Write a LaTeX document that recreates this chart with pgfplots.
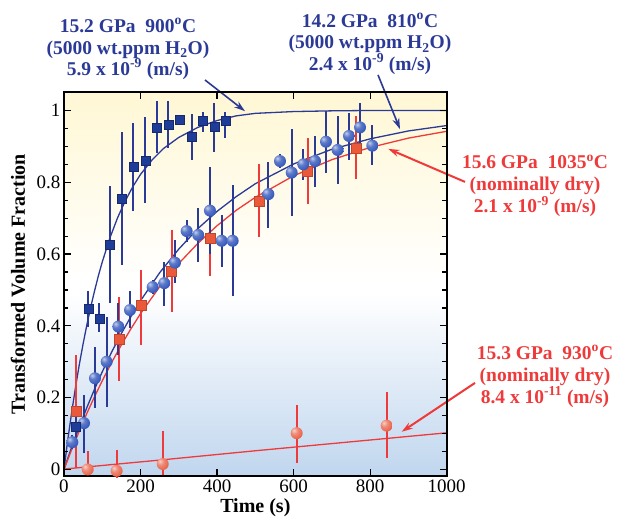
\documentclass[border=0pt]{standalone}
\usepackage{fontspec}
\setmainfont{Liberation Serif}
\usepackage{pgfplots}
\usepackage{pgfplotstable}
\pgfplotsset{compat=1.18}
\usetikzlibrary{arrows.meta}

\definecolor{dblue}{HTML}{2B3A96}
\definecolor{sqblue}{HTML}{1F3C98}
\definecolor{ballblue}{HTML}{3559BC}
\definecolor{dred}{HTML}{EE3A3A}
\definecolor{sqred}{HTML}{EA5A3A}
\definecolor{ballred}{HTML}{E8644A}
\definecolor{ytop}{HTML}{FFF7D4}
\definecolor{bbot}{HTML}{C0D6EE}

% sphere-like marks, lighter than the built-in ball
\pgfdeclareradialshading{bsph}{\pgfpoint{-12bp}{12bp}}{color(0bp)=(ballblue!30!white); color(14bp)=(ballblue!80!white); color(32bp)=(ballblue); color(55bp)=(ballblue!75!black); color(100bp)=(ballblue!75!black)}
\pgfdeclareradialshading{rsph}{\pgfpoint{-12bp}{12bp}}{color(0bp)=(ballred!30!white); color(14bp)=(ballred!75!white); color(32bp)=(ballred); color(55bp)=(ballred!85!black); color(100bp)=(ballred!85!black)}
\pgfdeclareplotmark{bsphere}{\pgfpathcircle{\pgfpointorigin}{\pgfplotmarksize}\pgfshadepath{bsph}{0}\pgfusepath{}}
\pgfdeclareplotmark{rsphere}{\pgfpathcircle{\pgfpointorigin}{\pgfplotmarksize}\pgfshadepath{rsph}{0}\pgfusepath{}}

% t, y, error plus, error minus
\pgfplotstableread{
t y ep em
30.5 0.119 0.040 0.040
63.6 0.449 0.049 0.051
92.3 0.421 0.042 0.037
120.2 0.625 0.165 0.162
151.5 0.753 0.188 0.183
181.0 0.842 0.122 0.122
212.5 0.861 0.120 0.118
242.0 0.953 0.074 0.071
272.7 0.960 0.067 0.065
301.5 0.974 0.011 0.014
333.6 0.927 0.063 0.065
362.4 0.971 0.026 0.030
392.8 0.954 0.068 0.069
421.6 0.971 0.026 0.049
}\bluesq

\pgfplotstableread{
t y ep em
21.8 0.076 0.020 0.020
52.3 0.129 0.079 0.082
81.0 0.254 0.086 0.084
111.5 0.300 0.126 0.125
142.0 0.398 0.065 0.079
172.5 0.444 0.054 0.051
231.7 0.508 0.020 0.020
262.0 0.519 0.060 0.064
290.0 0.576 0.063 0.056
320.5 0.664 0.030 0.030
350.8 0.653 0.075 0.074
381.4 0.721 0.122 0.120
412.0 0.637 0.072 0.072
440.7 0.637 0.155 0.154
534.0 0.767 0.090 0.095
564.4 0.859 0.020 0.020
595.0 0.827 0.121 0.121
625.4 0.850 0.042 0.044
656.0 0.859 0.070 0.073
684.6 0.913 0.086 0.086
715.0 0.890 0.095 0.095
744.7 0.929 0.065 0.067
773.5 0.953 0.069 0.063
805.6 0.902 0.058 0.054
}\bluecirc

\pgfplotstableread{
t y ep em
31.4 0.161 0.158 0.158
144.5 0.363 0.118 0.118
201.0 0.456 0.100 0.109
281.4 0.551 0.116 0.113
381.5 0.644 0.107 0.104
510.0 0.748 0.102 0.101
636.7 0.831 0.091 0.091
763.0 0.896 0.089 0.088
}\redsq

\pgfplotstableread{
t y ep em
62.0 0.000 0.052 0.020
137.6 -0.004 0.058 0.020
258.0 0.015 0.092 0.030
608.0 0.101 0.079 0.082
843.0 0.122 0.093 0.091
}\redcirc

\begin{document}
\begin{tikzpicture}
\begin{axis}[
  scale only axis, width=382.7pt, height=383.7pt,
  xmin=0, xmax=1000, ymin=-0.018, ymax=1.051,
  xtick={0,200,...,1000}, xticklabels={0,200,400,600,800,1000},
  ytick={0,0.2,0.4,0.6,0.8,1}, yticklabels={0,0.2,0.4,0.6,0.8,1},
  minor y tick num=3,
  tick align=inside, major tick length=7pt, minor tick length=4.5pt,
  every tick/.style={black, line width=1.2pt},
  axis line style={line width=2pt},
  axis on top, clip=false,
  ticklabel style={font=\fontsize{19}{19}\selectfont},
  /pgf/number format/assume math mode=true,
  xlabel={Time (s)}, ylabel={Transformed Volume Fraction},
  label style={font=\bfseries\fontsize{20}{20}\selectfont},
  xlabel style={at={(axis description cs:0.5,-0.083)}, anchor=center},
  ylabel style={at={(axis description cs:-0.12,0.5)}, anchor=center},
  error bars/y dir=both, error bars/y explicit,
  error bars/error mark=none,
]
% background
\fill[top color=ytop, bottom color=white, draw=none] (axis cs:0,1.051) rectangle (axis cs:1000,0.52);
\fill[top color=white, bottom color=white, draw=none] (axis cs:0,0.52) rectangle (axis cs:1000,0.49);
\fill[top color=white, bottom color=bbot, draw=none] (axis cs:0,0.49) rectangle (axis cs:1000,-0.018);

% fitted curves
\addplot[dblue, line width=1.3pt, no marks, error bars/y dir=none] coordinates {
(0,0) (10,0.083) (20,0.158) (30,0.228) (40,0.292) (50,0.350) (60,0.404) (70,0.453) (80,0.498) (90,0.540) (100,0.578) (120,0.645) (140,0.701) (160,0.748) (180,0.788) (200,0.822) (230,0.862) (260,0.894) (300,0.925) (350,0.953) (400,0.972) (450,0.985) (500,0.992) (600,0.997) (700,0.999) (800,1.0) (1000,1.0)};
\addplot[dblue, line width=1.3pt, no marks, error bars/y dir=none] coordinates {
(0,0) (20,0.062) (40,0.119) (60,0.173) (80,0.224) (100,0.272) (125,0.328) (150,0.379) (175,0.426) (200,0.470) (250,0.548) (300,0.614) (350,0.671) (400,0.719) (450,0.760) (500,0.796) (600,0.851) (700,0.892) (800,0.921) (900,0.943) (1000,0.958)};
\addplot[dred, line width=1.3pt, no marks, error bars/y dir=none] coordinates {
(0,0) (20,0.055) (40,0.107) (60,0.157) (80,0.203) (100,0.247) (125,0.299) (150,0.347) (175,0.392) (200,0.434) (250,0.509) (300,0.574) (350,0.630) (400,0.679) (450,0.722) (500,0.758) (600,0.818) (700,0.863) (800,0.897) (900,0.923) (1000,0.942)};
\addplot[dred, line width=1.3pt, no marks, error bars/y dir=none] coordinates {
(0,0.001) (250,0.026) (500,0.052) (750,0.077) (1000,0.102)};

% data
\addplot[only marks, mark=rsphere, mark size=6pt,
  error bars/error bar style={dred, line width=1.8pt}]
  table[x=t, y=y, y error plus=ep, y error minus=em] {\redcirc};
\addplot[only marks, mark=square*, mark size=5pt, mark options={fill=sqred, draw=sqred!80!black, line width=0.5pt},
  error bars/error bar style={dred, line width=1.8pt}]
  table[x=t, y=y, y error plus=ep, y error minus=em] {\redsq};
\addplot[only marks, mark=bsphere, mark size=6pt,
  error bars/error bar style={dblue, line width=1.8pt}]
  table[x=t, y=y, y error plus=ep, y error minus=em] {\bluecirc};
\addplot[only marks, mark=square*, mark size=4.5pt, mark options={fill=sqblue, draw=sqblue!70!black, line width=0.5pt},
  error bars/error bar style={dblue, line width=1.8pt}]
  table[x=t, y=y, y error plus=ep, y error minus=em] {\bluesq};

% annotations
\node[text=dblue, align=center, font=\bfseries\fontsize{19.5}{21.5}\selectfont]
  at (axis cs:167.2,1.171) {15.2 GPa~~900\textsuperscript{o}C\\(5000 wt.ppm H\textsubscript{2}O)\\5.9 x 10\textsuperscript{-9} (m/s)};
\node[text=dblue, align=center, font=\bfseries\fontsize{19.5}{21.5}\selectfont]
  at (axis cs:799.6,1.185) {14.2 GPa~~810\textsuperscript{o}C\\(5000 wt.ppm H\textsubscript{2}O)\\2.4 x 10\textsuperscript{-9} (m/s)};
\node[text=dred, align=center, font=\bfseries\fontsize{19.5}{22}\selectfont]
  at (axis cs:1230.7,0.790) {15.6 GPa~~1035\textsuperscript{o}C\\(nominally dry)\\2.1 x 10\textsuperscript{-9} (m/s)};
\node[text=dred, align=center, font=\bfseries\fontsize{19.5}{22}\selectfont]
  at (axis cs:1256.9,0.260) {15.3 GPa~~930\textsuperscript{o}C\\(nominally dry)\\8.4 x 10\textsuperscript{-11} (m/s)};

\draw[dblue, line width=1.6pt, -{Stealth[length=11pt,width=7pt]}] (axis cs:368.4,1.085) -- (axis cs:473,0.998);
\draw[dblue, line width=1.6pt, -{Stealth[length=11pt,width=7pt]}] (axis cs:820.5,1.099) -- (axis cs:878,0.948);
\draw[dred, line width=2pt, -{Stealth[length=11pt,width=7pt]}] (axis cs:1047.8,0.801) -- (axis cs:847.4,0.893);
\draw[dred, line width=2pt, -{Stealth[length=11pt,width=7pt]}] (axis cs:1074,0.241) -- (axis cs:882.4,0.105);

\coordinate (BL) at (axis cs:-167.2,-0.1323);
\coordinate (TR) at (axis cs:1447.6,1.3078);
\end{axis}
\pgfresetboundingbox
\path[use as bounding box] (BL) rectangle (TR);
\end{tikzpicture}
\end{document}
